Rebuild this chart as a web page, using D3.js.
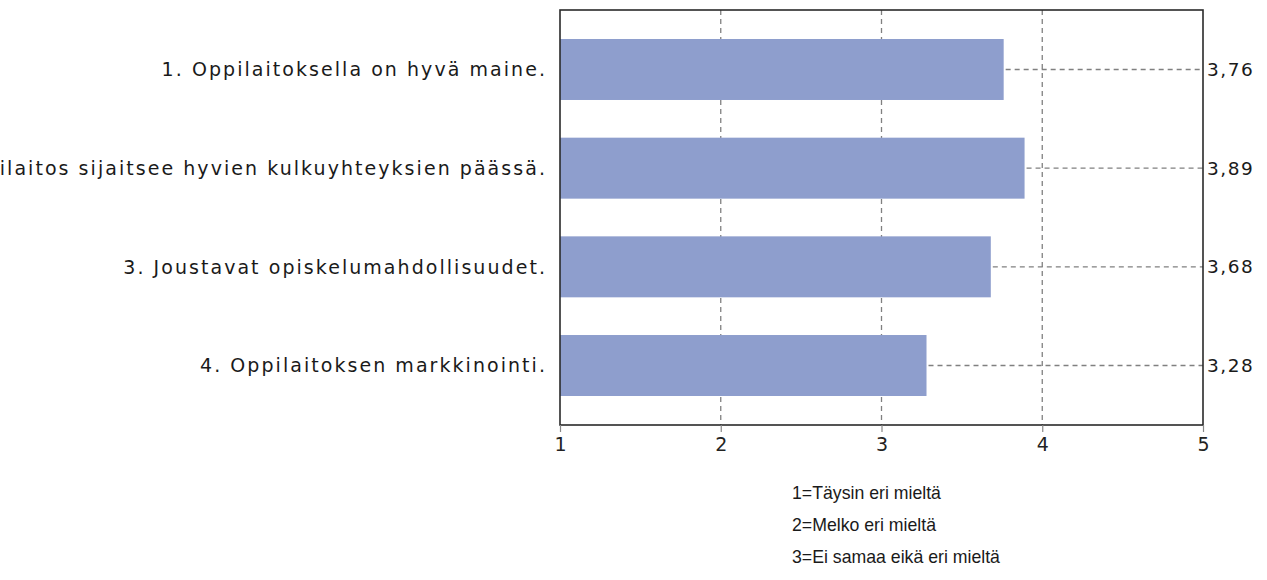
<!DOCTYPE html>
<html>
<head>
<meta charset="utf-8">
<script src="https://cdn.jsdelivr.net/npm/d3@7"></script>
<style>
  html, body { margin: 0; padding: 0; background: #ffffff; }
  svg { display: block; }
</style>
</head>
<body>
<svg id="chart" width="1267" height="580"></svg>
<script>
const categories = [
  "1. Oppilaitoksella on hyvä maine.",
  "2. Oppilaitos sijaitsee hyvien kulkuyhteyksien päässä.",
  "3. Joustavat opiskelumahdollisuudet.",
  "4. Oppilaitoksen markkinointi."
];
const values = [3.76, 3.89, 3.68, 3.28];
const valueLabels = ["3,76", "3,89", "3,68", "3,28"];
const xTicks = [1, 2, 3, 4, 5];
const gridTicks = [2, 3, 4];
const legendLines = [
  "1=Täysin eri mieltä",
  "2=Melko eri mieltä",
  "3=Ei samaa eikä eri mieltä"
];

const svg = d3.select("#chart");
const plotL = 560, plotR = 1203, plotT = 10, plotB = 425;

const x = d3.scaleLinear().domain([1, 5]).range([plotL, plotR]);
const y = d3.scaleBand().domain(categories).range([plotT, plotB])
  .paddingInner(0.382).paddingOuter(0.294);

// vertical gridlines
svg.append("g").selectAll("line").data(gridTicks).join("line")
  .attr("x1", d => x(d)).attr("x2", d => x(d))
  .attr("y1", plotT).attr("y2", plotB)
  .attr("stroke", "#808080").attr("stroke-width", 1.3)
  .attr("stroke-dasharray", "5,4");

// bars
svg.append("g").selectAll("rect").data(categories).join("rect")
  .attr("x", x(1))
  .attr("y", d => y(d))
  .attr("width", (d, i) => x(values[i]) - x(1))
  .attr("height", y.bandwidth())
  .attr("fill", "#8e9ecd");

// horizontal dashed leader lines
svg.append("g").selectAll("line").data(categories).join("line")
  .attr("x1", (d, i) => x(values[i]) + 2).attr("x2", plotR)
  .attr("y1", d => y(d) + y.bandwidth() / 2).attr("y2", d => y(d) + y.bandwidth() / 2)
  .attr("stroke", "#808080").attr("stroke-width", 1.3)
  .attr("stroke-dasharray", "5,4");

// plot frame
svg.append("rect")
  .attr("x", plotL).attr("y", plotT)
  .attr("width", plotR - plotL).attr("height", plotB - plotT)
  .attr("fill", "none").attr("stroke", "#2a2a2a").attr("stroke-width", 1.6);

// x axis
const xAxis = d3.axisBottom(x).tickValues(xTicks).tickSize(7).tickPadding(6)
  .tickFormat(d3.format("d"));
const gx = svg.append("g").attr("transform", `translate(0,${plotB})`).call(xAxis);
gx.select(".domain").remove();
gx.selectAll(".tick line").attr("stroke", "#888").attr("stroke-width", 1.2);
gx.selectAll(".tick text")
  .attr("font-family", "'DejaVu Sans', Verdana, sans-serif")
  .attr("font-size", "19px").attr("fill", "#222");

// category labels
svg.append("g").selectAll("text").data(categories).join("text")
  .attr("x", 547)
  .attr("y", d => y(d) + y.bandwidth() / 2)
  .attr("dy", "0.36em")
  .attr("text-anchor", "end")
  .attr("font-family", "'DejaVu Sans', Verdana, sans-serif")
  .attr("font-size", "19px")
  .attr("letter-spacing", "2.05px")
  .attr("fill", "#1a1a1a")
  .text(d => d);

// value labels
svg.append("g").selectAll("text").data(categories).join("text")
  .attr("x", plotR + 4)
  .attr("y", d => y(d) + y.bandwidth() / 2)
  .attr("dy", "0.36em")
  .attr("font-family", "'DejaVu Sans', Verdana, sans-serif")
  .attr("font-size", "18.5px")
  .attr("letter-spacing", "1.5px")
  .attr("fill", "#1a1a1a")
  .text((d, i) => valueLabels[i]);

// legend text
svg.append("g").selectAll("text").data(legendLines).join("text")
  .attr("x", 792)
  .attr("y", (d, i) => 493 + i * 32)
  .attr("dy", "0.36em")
  .attr("font-family", "'Liberation Sans', Arial, sans-serif")
  .attr("font-size", "17.7px")
  .attr("fill", "#1a1a1a")
  .text(d => d);
</script>
</body>
</html>
